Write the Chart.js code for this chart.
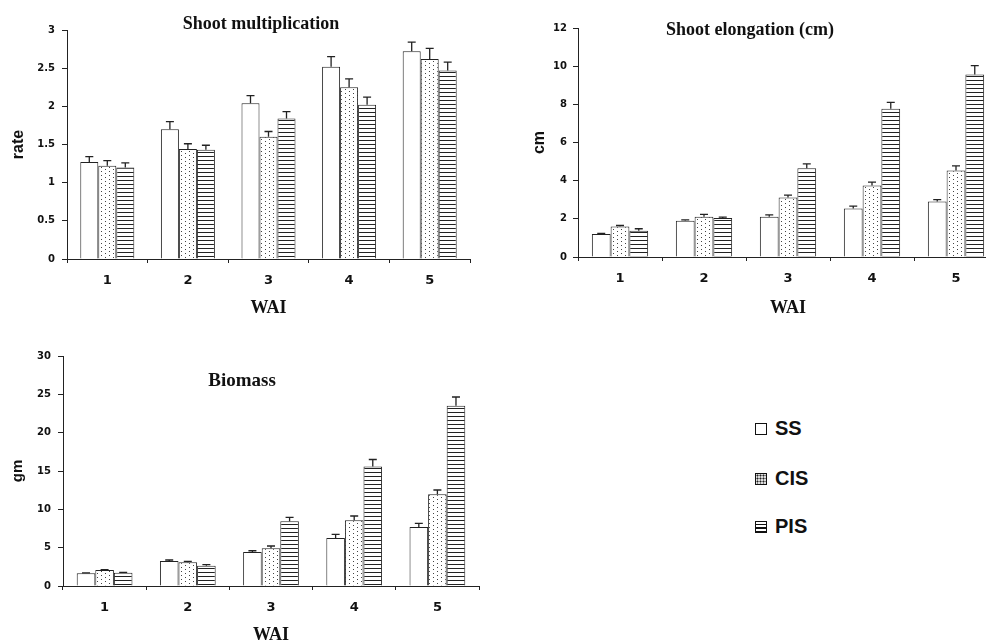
<!DOCTYPE html>
<html>
<head>
<meta charset="utf-8">
<script src="https://cdn.jsdelivr.net/npm/chart.js@4.4.1/dist/chart.umd.min.js"></script>
<style>
  html, body { margin: 0; padding: 0; background: #fff; overflow: hidden; width: 986px; height: 644px; position: relative; }
  canvas { position: absolute; }
  #multChart { left: 0; top: 0; }
  #elongChart { left: 500px; top: 0; }
  #bioChart { left: 0; top: 340px; }
  .item { position: absolute; left: 755px; display: flex; align-items: center; white-space: nowrap;
          font: bold 20px 'Liberation Sans', Arial, sans-serif; color: #111; line-height: 23px; }
  .sw { width: 10px; height: 10px; border: 1.5px solid #111; margin-right: 8px; background: #fff; }
  .sw.dots { background: radial-gradient(circle, #222 0.9px, transparent 1.1px) 0 0 / 3px 3px, #ddd; }
  .sw.lines { background: repeating-linear-gradient(to bottom, #fff 0 2px, #111 2px 3.5px); }
</style>
</head>
<body>
<canvas id="multChart" width="480" height="320"></canvas>
<canvas id="elongChart" width="520" height="320"></canvas>
<canvas id="bioChart" width="490" height="304"></canvas>

<div class="item" style="top:417px"><span class="sw"></span>SS</div>
<div class="item" style="top:467px"><span class="sw dots"></span>CIS</div>
<div class="item" style="top:515px"><span class="sw lines"></span>PIS</div>

<script>
const weeks = ['1', '2', '3', '4', '5'];
const seriesNames = ['SS', 'CIS', 'PIS'];

// Shoot multiplication (rate)
const multSS = [1.27, 1.70, 2.04, 2.52, 2.72];
const multCIS = [1.22, 1.44, 1.60, 2.25, 2.62];
const multPIS = [1.20, 1.43, 1.84, 2.02, 2.47];
const multErrSS = [0.07, 0.10, 0.10, 0.13, 0.12];
const multErrCIS = [0.07, 0.07, 0.07, 0.11, 0.14];
const multErrPIS = [0.06, 0.06, 0.09, 0.10, 0.11];
const multTicks = [0, 0.5, 1, 1.5, 2, 2.5, 3];

// Shoot elongation (cm)
const elongSS = [1.20, 1.90, 2.11, 2.54, 2.91];
const elongCIS = [1.60, 2.11, 3.12, 3.75, 4.53];
const elongPIS = [1.38, 2.04, 4.65, 7.77, 9.56];
const elongErrSS = [0.04, 0.05, 0.10, 0.13, 0.10];
const elongErrCIS = [0.05, 0.12, 0.12, 0.17, 0.24];
const elongErrPIS = [0.10, 0.05, 0.23, 0.33, 0.47];
const elongTicks = [0, 2, 4, 6, 8, 10, 12];

// Biomass (gm)
const bioSS = [1.65, 3.26, 4.43, 6.26, 7.70];
const bioCIS = [2.09, 3.09, 4.91, 8.57, 11.96];
const bioPIS = [1.74, 2.65, 8.43, 15.6, 23.5];
const bioErrSS = [0.05, 0.13, 0.17, 0.48, 0.47];
const bioErrCIS = [0.05, 0.13, 0.31, 0.56, 0.56];
const bioErrPIS = [0.05, 0.13, 0.53, 0.90, 1.15];
const bioTicks = [0, 5, 10, 15, 20, 25, 30];

// fills: plain, dotted, striped
function makePattern(w, h, paint) {
  const c = document.createElement('canvas');
  c.width = w; c.height = h;
  const g = c.getContext('2d');
  g.fillStyle = '#fff';
  g.fillRect(0, 0, w, h);
  paint(g);
  return g.createPattern(c, 'repeat');
}
const dotFill = makePattern(8, 4, g => {
  g.fillStyle = '#444';
  g.fillRect(1, 1, 1, 1);
  g.fillRect(5, 3, 1, 1);
});
const stripeFill = makePattern(4, 4, g => {
  g.fillStyle = '#222';
  g.fillRect(0, 0, 4, 1);
});
const fills = ['#ffffff', dotFill, stripeFill];

const errorBars = {
  id: 'errorBars',
  afterDatasetsDraw(chart) {
    const ctx = chart.ctx;
    const y = chart.scales.y;
    ctx.save();
    ctx.strokeStyle = '#222';
    ctx.lineWidth = 1.3;
    chart.data.datasets.forEach((ds, i) => {
      chart.getDatasetMeta(i).data.forEach((bar, j) => {
        const top = y.getPixelForValue(ds.data[j] + ds.errors[j]);
        ctx.beginPath();
        ctx.moveTo(bar.x, bar.y);
        ctx.lineTo(bar.x, top);
        ctx.moveTo(bar.x - 4, top);
        ctx.lineTo(bar.x + 4, top);
        ctx.stroke();
      });
    });
    ctx.restore();
  }
};

const innerTitle = {
  id: 'innerTitle',
  afterDraw(chart, args, opts) {
    const ctx = chart.ctx;
    ctx.save();
    ctx.font = opts.font;
    ctx.fillStyle = '#111';
    ctx.textAlign = 'center';
    ctx.textBaseline = 'alphabetic';
    ctx.fillText(opts.text, opts.x, opts.y);
    ctx.restore();
  }
};

function makeChart(id, values, errors, ticks, yTitle, lay) {
  new Chart(document.getElementById(id), {
    type: 'bar',
    data: {
      labels: weeks,
      datasets: seriesNames.map((name, i) => ({
        label: name,
        data: values[i],
        errors: errors[i],
        backgroundColor: fills[i],
        borderColor: '#222',
        borderWidth: 1,
        barPercentage: 1,
        categoryPercentage: 0.67
      }))
    },
    options: {
      responsive: false,
      animation: false,
      layout: { padding: { top: lay.top, right: lay.right, left: 0, bottom: 0 } },
      plugins: {
        legend: { display: false },
        tooltip: { enabled: false },
        innerTitle: { text: lay.title, x: lay.titleX, y: lay.titleY, font: lay.titleFont }
      },
      scales: {
        x: {
          afterFit: s => { s.height = lay.xHeight; },
          grid: { drawOnChartArea: false, tickLength: 4, color: '#222', offset: true },
          border: { color: '#222' },
          ticks: { font: { family: 'DejaVu Sans', weight: 'bold', size: 13 }, color: '#111', padding: 10, maxRotation: 0 },
          title: {
            display: true, text: 'WAI', color: '#111',
            font: { family: 'Liberation Serif', weight: 'bold', size: 18 },
            padding: { top: 0, bottom: lay.xTitlePad }
          }
        },
        y: {
          min: ticks[0],
          max: ticks[ticks.length - 1],
          afterBuildTicks: s => { s.ticks = ticks.map(v => ({ value: v })); },
          afterFit: s => { s.width = lay.yWidth; },
          grid: { drawOnChartArea: false, tickLength: 5, color: '#222' },
          border: { color: '#222' },
          ticks: { callback: v => String(v), font: { family: 'DejaVu Sans', weight: 'bold', size: 10 }, color: '#111', padding: lay.yTickPad },
          title: {
            display: true, text: yTitle, color: '#111',
            font: { family: 'Liberation Sans', weight: 'bold', size: lay.yTitleSize },
            padding: { top: lay.yTitlePad, bottom: 0 }
          }
        }
      }
    },
    plugins: [errorBars, innerTitle]
  });
}

makeChart('multChart',
  [multSS, multCIS, multPIS], [multErrSS, multErrCIS, multErrPIS], multTicks, 'rate',
  { top: 30, right: 10, yWidth: 67, xHeight: 61, yTickPad: 7, yTitlePad: 9, yTitleSize: 16, xTitlePad: 1,
    title: 'Shoot multiplication', titleX: 261, titleY: 29, titleFont: 'bold 18px "Liberation Serif"' });

makeChart('elongChart',
  [elongSS, elongCIS, elongPIS], [elongErrSS, elongErrCIS, elongErrPIS], elongTicks, 'cm',
  { top: 28, right: 22, yWidth: 78, xHeight: 63, yTickPad: 6, yTitlePad: 30, yTitleSize: 16, xTitlePad: 1,
    title: 'Shoot elongation (cm)', titleX: 250, titleY: 35, titleFont: 'bold 18px "Liberation Serif"' });

makeChart('bioChart',
  [bioSS, bioCIS, bioPIS], [bioErrSS, bioErrCIS, bioErrPIS], bioTicks, 'gm',
  { top: 16, right: 11, yWidth: 63, xHeight: 58, yTickPad: 7, yTitlePad: 9, yTitleSize: 15, xTitlePad: -2,
    title: 'Biomass', titleX: 242, titleY: 46, titleFont: 'bold 19px "Liberation Serif"' });
</script>
</body>
</html>
